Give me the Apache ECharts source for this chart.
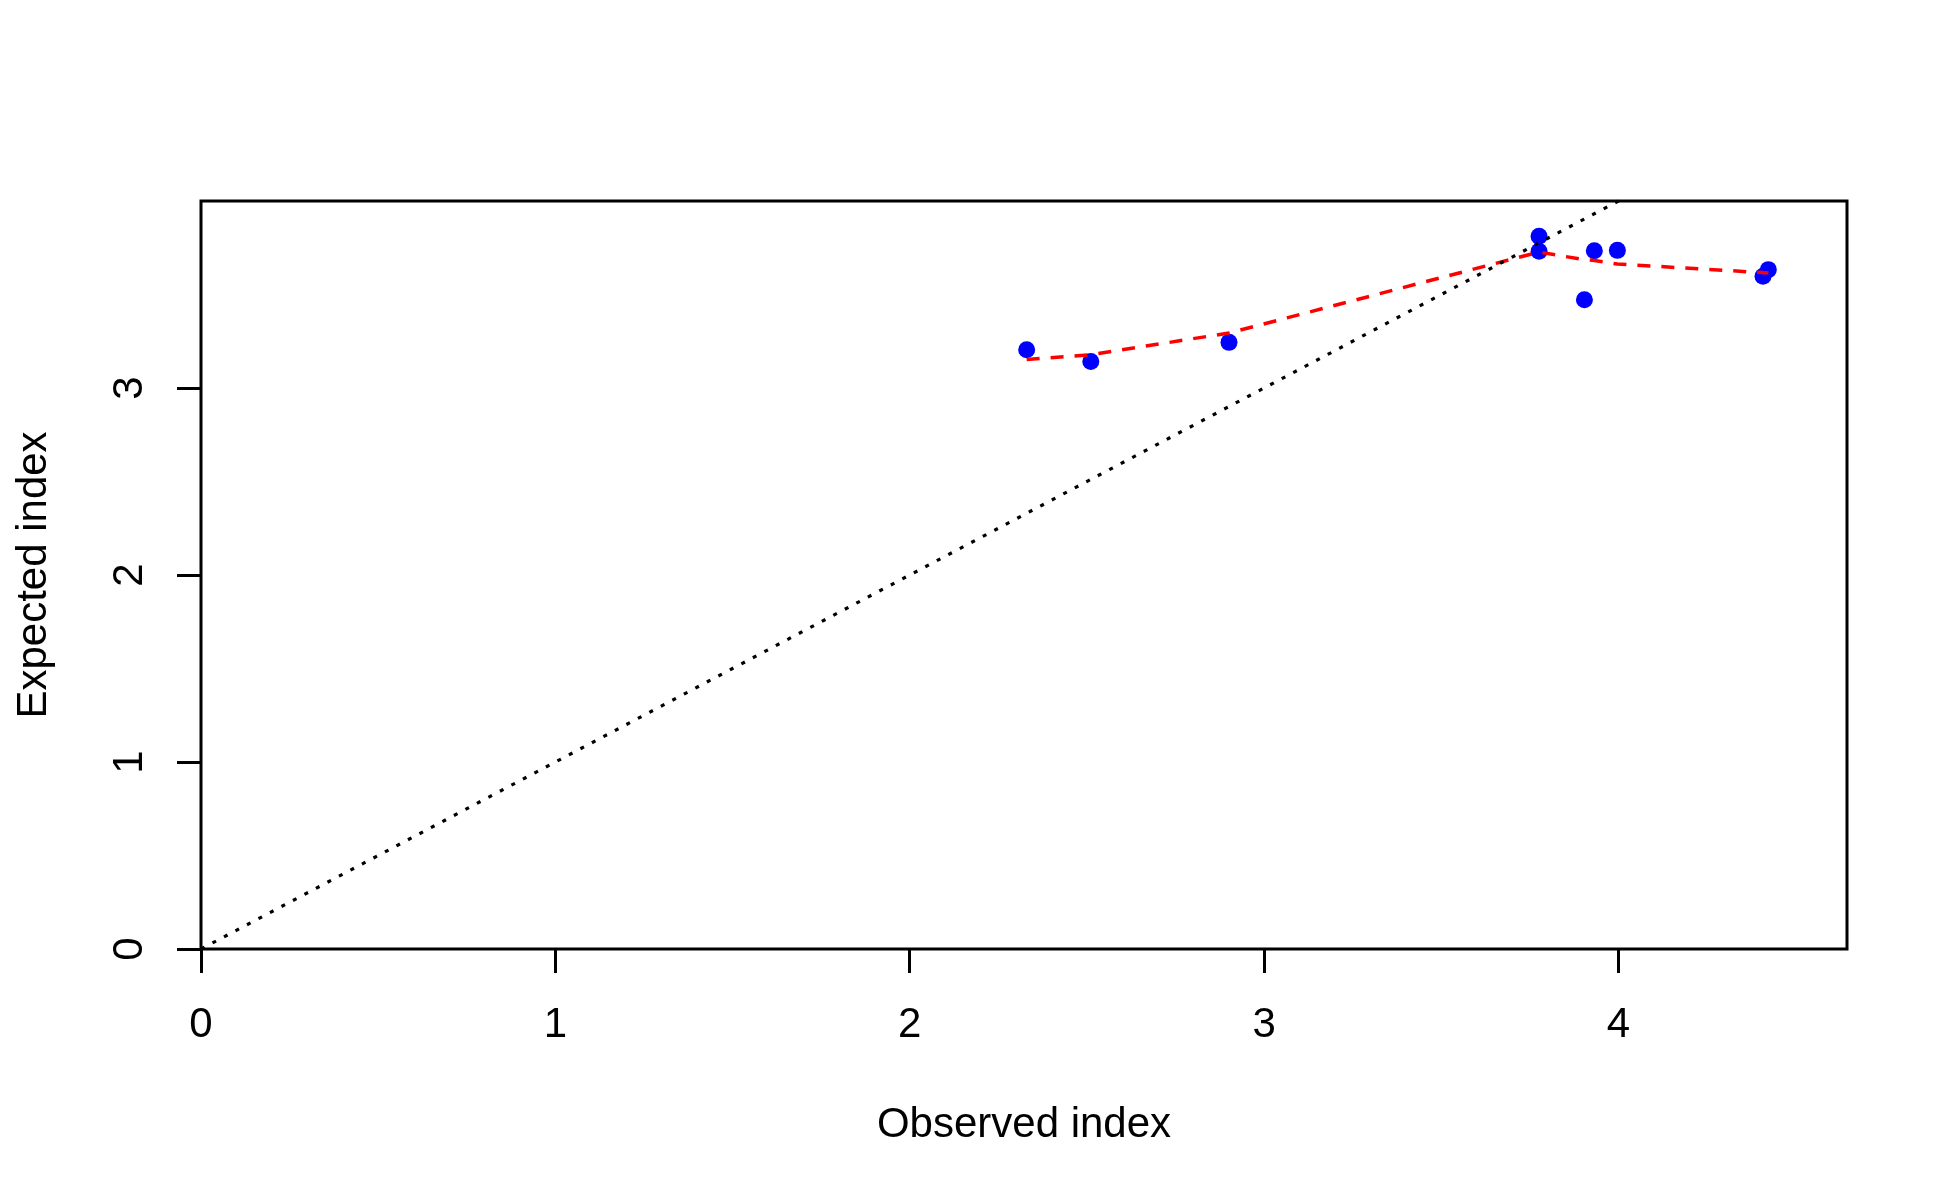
<!DOCTYPE html>
<html>
<head>
<meta charset="utf-8">
<title>Observed vs expected index</title>
<script src="https://cdn.jsdelivr.net/npm/echarts@6/dist/echarts.min.js"></script>
<style>
  html, body { margin: 0; padding: 0; background: #fff; }
  #main { width: 1950px; height: 1200px; }
</style>
</head>
<body>
<div id="main"></div>
<script>
// observed / expected values
var observed = [2.330, 2.511, 2.901, 3.776, 3.776, 3.904, 3.932, 3.997, 4.408, 4.423];
var expected = [3.205, 3.142, 3.244, 3.811, 3.731, 3.472, 3.734, 3.736, 3.597, 3.633];

// smoothed (lowess) curve
var smoothX = [2.330, 2.511, 2.901, 3.776, 3.904, 3.932, 3.997, 4.408, 4.423];
var smoothY = [3.152, 3.178, 3.294, 3.727, 3.686, 3.682, 3.663, 3.617, 3.615];

// 1:1 reference line
var refX = [0, 5];
var refY = [0, 5];

var xTicks = [0, 1, 2, 3, 4];
var yTicks = [0, 1, 2, 3];

function pairs(xs, ys) {
    var out = [];
    for (var i = 0; i < xs.length; i++) {
        out.push([xs[i], ys[i]]);
    }
    return out;
}

var font = "'Liberation Sans', Arial, sans-serif";

var myChart = echarts.init(document.getElementById('main'));

var option = {
    animation: false,
    backgroundColor: '#ffffff',
    grid: {
        left: 201,
        top: 201,
        right: 103,
        bottom: 251,
        show: true,
        borderColor: '#000',
        borderWidth: 3,
        backgroundColor: 'transparent'
    },
    xAxis: {
        type: 'value',
        min: 0,
        max: 4.645,
        name: 'Observed index',
        nameLocation: 'middle',
        nameGap: 155,
        nameTextStyle: { fontFamily: font, fontSize: 42, color: '#000' },
        splitLine: { show: false },
        axisLine: { show: false },
        axisTick: {
            show: true,
            length: 24,
            customValues: xTicks,
            lineStyle: { color: '#000', width: 3 }
        },
        axisLabel: {
            customValues: xTicks,
            margin: 55,
            fontFamily: font,
            fontSize: 42,
            color: '#000'
        }
    },
    yAxis: {
        type: 'value',
        min: 0,
        max: 4.0,
        name: 'Expected index',
        nameLocation: 'middle',
        nameGap: 146,
        nameRotate: 90,
        nameTextStyle: { fontFamily: font, fontSize: 42, color: '#000' },
        splitLine: { show: false },
        axisLine: { show: false },
        axisTick: {
            show: true,
            length: 24,
            customValues: yTicks,
            lineStyle: { color: '#000', width: 3 }
        },
        axisLabel: {
            customValues: yTicks,
            rotate: 90,
            margin: 50,
            fontFamily: font,
            fontSize: 42,
            color: '#000'
        }
    },
    series: [
        {
            name: 'points',
            type: 'scatter',
            data: pairs(observed, expected),
            symbol: 'circle',
            symbolSize: 17,
            itemStyle: { color: '#0000ff', opacity: 1 },
            z: 2
        },
        {
            name: 'smooth',
            type: 'line',
            data: pairs(smoothX, smoothY),
            showSymbol: false,
            symbol: 'none',
            lineStyle: { color: '#ff0000', width: 3.5, type: [13, 11] },
            z: 3
        },
        {
            name: 'reference',
            type: 'line',
            data: pairs(refX, refY),
            showSymbol: false,
            symbol: 'none',
            clip: true,
            lineStyle: { color: '#000000', width: 3.2, type: [4, 9] },
            z: 4
        }
    ]
};

myChart.setOption(option);
</script>
</body>
</html>
